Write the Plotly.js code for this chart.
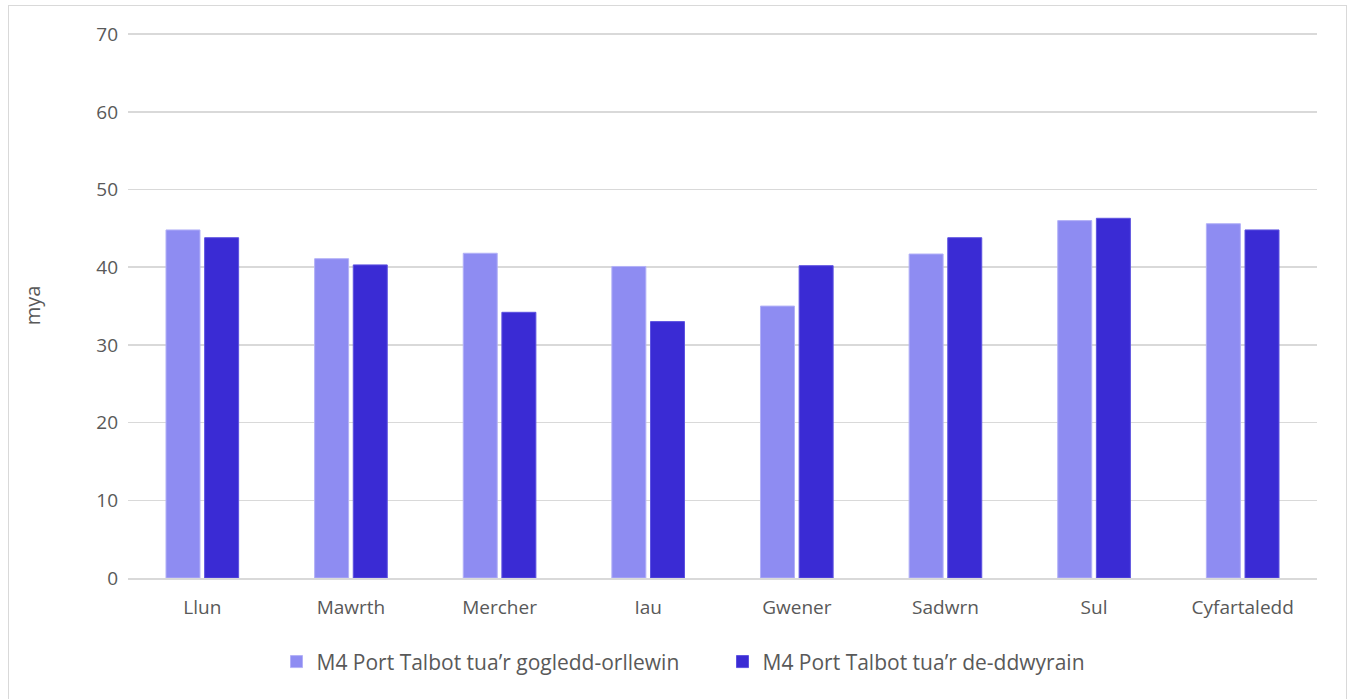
<!DOCTYPE html>
<html>
<head>
<meta charset="utf-8">
<script src="https://cdn.plot.ly/plotly-3.0.1.min.js"></script>
<style>
html,body{margin:0;padding:0;background:#fff;}
#frame{position:absolute;left:8px;top:5px;width:1339px;height:710px;border:1px solid #d9d9d9;box-sizing:border-box;}
#chart{position:absolute;left:0;top:0;width:1352px;height:699px;}
</style>
</head>
<body>
<div id="frame"></div>
<div id="chart"></div>
<script>
const categories = ["Llun","Mawrth","Mercher","Iau","Gwener","Sadwrn","Sul","Cyfartaledd"];
const seriesNames = ["M4 Port Talbot tua\u2019r gogledd-orllewin","M4 Port Talbot tua\u2019r de-ddwyrain"];
const northWest = [44.8, 41.1, 41.8, 40.1, 35.0, 41.7, 46.0, 45.6];
const southEast = [43.8, 40.3, 34.2, 33.0, 40.2, 43.8, 46.3, 44.8];
const yTicks = [0,10,20,30,40,50,60,70];

const font = {family: "Open Sans, Noto Sans, sans-serif", size: 19, color: "#595959"};

const traces = [
  {type:"bar", name: seriesNames[0], x: categories, y: northWest,
   marker:{color:"#8E8CF2", line:{color:"#b3b1f7", width:1}}},
  {type:"bar", name: seriesNames[1], x: categories, y: southEast,
   marker:{color:"#3A2BD4", line:{color:"#5d52e0", width:1}}}
];

const layout = {
  width:1352, height:699,
  margin:{l:128, r:35, t:33, b:121},
  paper_bgcolor:"rgba(0,0,0,0)", plot_bgcolor:"#fff",
  font: font,
  barmode:"group", bargap:0.48, bargroupgap:0.12,
  showlegend:true,
  legend:{orientation:"h", x:0.5, xanchor:"center", y:-0.154, yanchor:"middle",
          font:{family:font.family, size:21, color:"#595959"}, itemwidth:30,
          entrywidth:401, tracegroupgap:0},
  xaxis:{type:"category", showgrid:false, showline:true, linecolor:"#d9d9d9", linewidth:2,
         ticks:"", tickfont:font, ticklabelstandoff:11, fixedrange:true},
  yaxis:{range:[0,70.15], tickvals:yTicks, ticktext:yTicks.map(String), showgrid:true,
         gridcolor:"#d9d9d9", gridwidth:1.5, zeroline:false, showline:false, ticks:"",
         tickfont:font, ticklabelstandoff:9,
         title:{text:"mya", font:{family:font.family, size:20, color:"#595959"}, standoff:50}}
};

Plotly.newPlot("chart", traces, layout, {displayModeBar:false, staticPlot:true});
</script>
</body>
</html>
